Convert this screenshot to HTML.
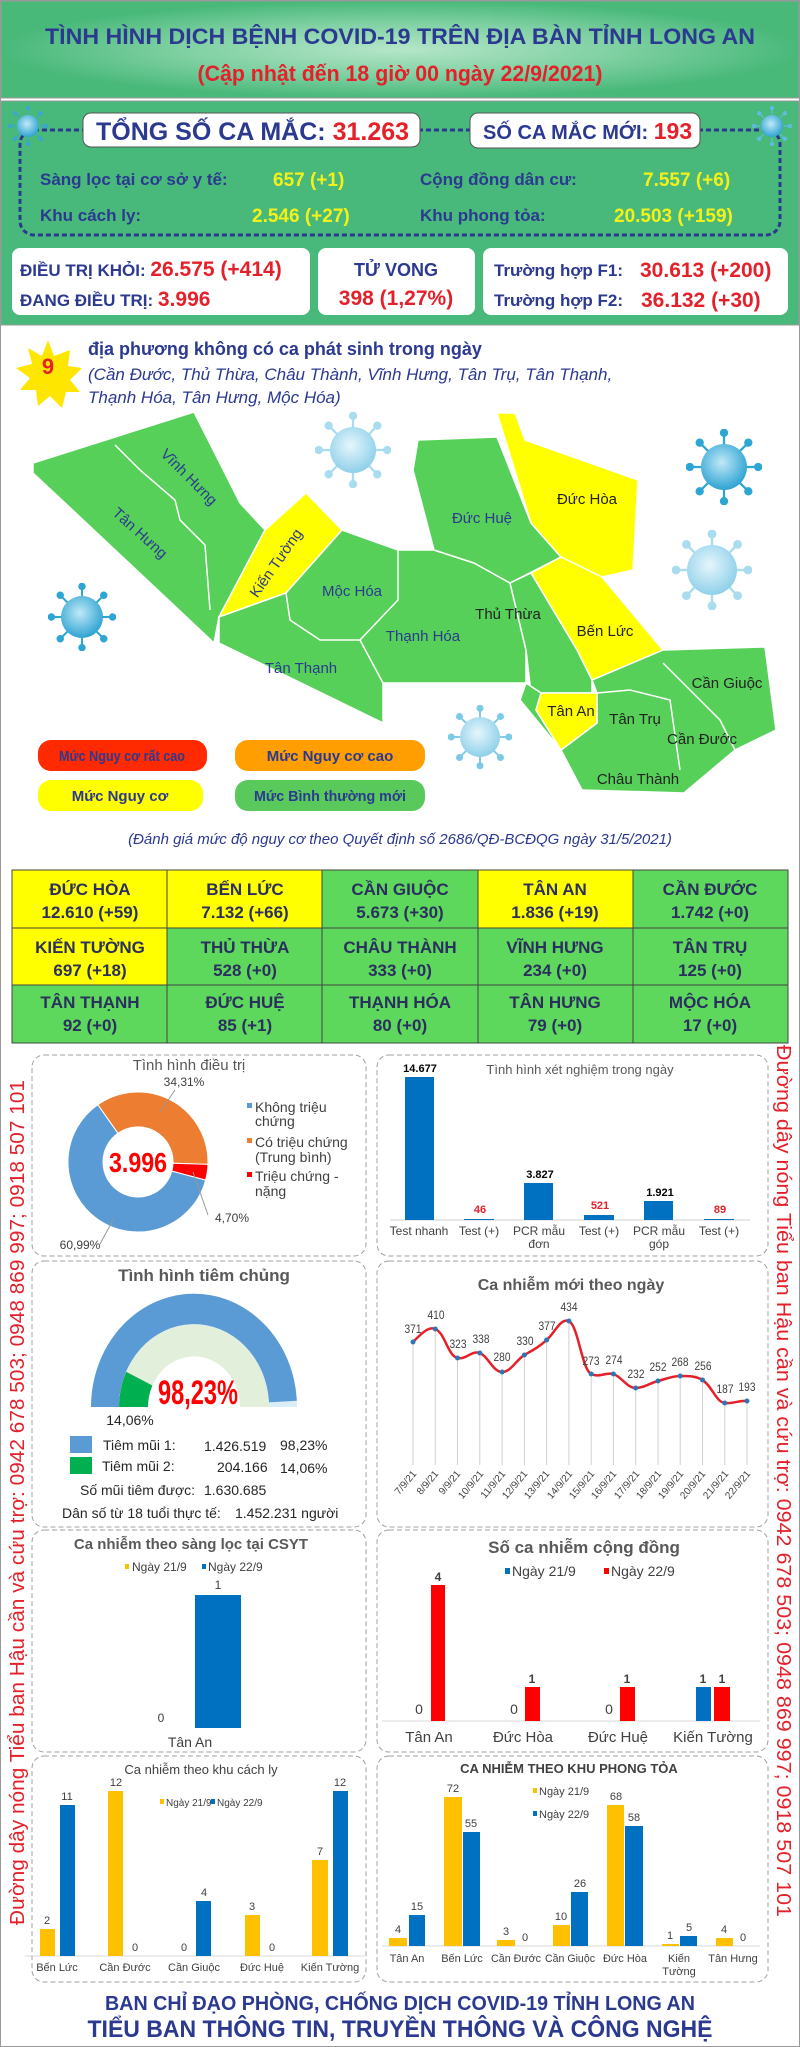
<!DOCTYPE html>
<html><head><meta charset="utf-8"><style>
html,body{margin:0;padding:0;background:#fff}
svg{display:block}
text{font-family:"Liberation Sans",sans-serif}
.n{font-family:"Liberation Sans Narrow","Liberation Sans",sans-serif}
</style></head><body>
<svg width="800" height="2047" viewBox="0 0 800 2047" xmlns="http://www.w3.org/2000/svg">
<defs>
<radialGradient id="hg" cx="50%" cy="50%" r="50%"><stop offset="0" stop-color="#b5e6c9"/><stop offset="0.55" stop-color="#7fd0a2"/><stop offset="1" stop-color="#49b97a"/></radialGradient>
<radialGradient id="vg" cx="45%" cy="40%" r="60%"><stop offset="0" stop-color="#bfe9f7"/><stop offset="1" stop-color="#2fa3d3"/></radialGradient>
<radialGradient id="vg2" cx="45%" cy="40%" r="60%"><stop offset="0" stop-color="#e6f6fc"/><stop offset="1" stop-color="#8fd0ea"/></radialGradient>
<symbol id="vir" viewBox="-50 -50 100 100">
<g stroke="currentColor" stroke-width="3" fill="currentColor">
<line x1="0" y1="-30" x2="0" y2="-44"/><line x1="0" y1="30" x2="0" y2="44"/><line x1="-30" y1="0" x2="-44" y2="0"/><line x1="30" y1="0" x2="44" y2="0"/>
<line x1="21" y1="21" x2="31" y2="31"/><line x1="-21" y1="21" x2="-31" y2="31"/><line x1="21" y1="-21" x2="31" y2="-31"/><line x1="-21" y1="-21" x2="-31" y2="-31"/>
<circle cx="0" cy="-45" r="4"/><circle cx="0" cy="45" r="4"/><circle cx="-45" cy="0" r="4"/><circle cx="45" cy="0" r="4"/>
<circle cx="32" cy="32" r="4"/><circle cx="-32" cy="32" r="4"/><circle cx="32" cy="-32" r="4"/><circle cx="-32" cy="-32" r="4"/>
</g>
</symbol>
</defs>
<rect x="0" y="0" width="800" height="2047" fill="#fff" stroke="#999" stroke-width="2"/>
<!-- header -->
<rect x="1" y="1" width="798" height="97" fill="url(#hg)" stroke="#999"/>
<text x="400" y="44" text-anchor="middle" font-size="22" font-weight="bold" fill="#2b3990" textLength="710" lengthAdjust="spacingAndGlyphs">TÌNH HÌNH DỊCH BỆNH COVID-19 TRÊN ĐỊA BÀN TỈNH LONG AN</text>
<text x="400" y="81" text-anchor="middle" font-size="22" font-weight="bold" fill="#e4202a" class="n" textLength="405" lengthAdjust="spacingAndGlyphs">(Cập nhật đến 18 giờ 00 ngày 22/9/2021)</text>
<!-- stats -->
<rect x="1" y="101" width="798" height="224" fill="#48b97a" stroke="#999"/>
<rect x="20" y="130" width="760" height="105" rx="14" fill="none" stroke="#2b3990" stroke-width="3" stroke-dasharray="5 3"/>
<use href="#vir" x="8" y="106" width="40" height="40" color="#3aa6d6"/>
<use href="#vir" x="752" y="106" width="40" height="40" color="#5fbde0"/>
<circle cx="28" cy="126" r="11" fill="url(#vg)"/><circle cx="772" cy="126" r="11" fill="url(#vg)"/>
<rect x="83" y="113" width="337" height="34" rx="8" fill="#fff" stroke="#555"/>
<text x="96" y="140" font-size="25" font-weight="bold" fill="#2b3990">TỔNG SỐ CA MẮC: <tspan fill="#e4202a">31.263</tspan></text>
<rect x="470" y="113" width="230" height="35" rx="8" fill="#fff" stroke="#555"/>
<text x="483" y="139" font-size="20" font-weight="bold" fill="#2b3990" class="n">SỐ CA MẮC MỚI: <tspan fill="#e4202a" font-size="23">193</tspan></text>
<g font-size="17" font-weight="bold" fill="#2b3990">
<text x="40" y="185">Sàng lọc tại cơ sở y tế:</text>
<text x="40" y="221">Khu cách ly:</text>
<text x="420" y="185">Cộng đồng dân cư:</text>
<text x="420" y="221">Khu phong tỏa:</text>
</g>
<g font-size="19" font-weight="bold" fill="#f4f11a">
<text x="273" y="186">657 (+1)</text>
<text x="252" y="222">2.546 (+27)</text>
<text x="643" y="186">7.557 (+6)</text>
<text x="614" y="222">20.503 (+159)</text>
</g>
<rect x="12" y="248" width="298" height="67" rx="8" fill="#fff"/>
<rect x="318" y="248" width="157" height="67" rx="8" fill="#fff"/>
<rect x="483" y="248" width="305" height="67" rx="8" fill="#fff"/>
<g font-weight="bold">
<text x="20" y="276" font-size="17" fill="#2b3990">ĐIỀU TRỊ KHỎI: <tspan fill="#e4202a" font-size="21">26.575 (+414)</tspan></text>
<text x="20" y="306" font-size="17" fill="#2b3990">ĐANG ĐIỀU TRỊ: <tspan fill="#e4202a" font-size="21">3.996</tspan></text>
<text x="396" y="276" font-size="18" fill="#2b3990" text-anchor="middle">TỬ VONG</text>
<text x="396" y="305" font-size="21" fill="#e4202a" text-anchor="middle">398 (1,27%)</text>
<text x="494" y="276" font-size="17" fill="#2b3990">Trường hợp F1:</text>
<text x="640" y="277" font-size="21" fill="#e4202a">30.613 (+200)</text>
<text x="494" y="306" font-size="17" fill="#2b3990">Trường hợp F2:</text>
<text x="641" y="307" font-size="21" fill="#e4202a">36.132 (+30)</text>
</g>
<!-- map section -->
<polygon points="48,340 54,356 70,350 68,366 82,368 70,380 80,392 66,392 62,408 50,396 38,406 36,390 20,390 30,378 16,368 32,364 28,348 42,356" fill="#ffe600"/>
<text x="48" y="374" text-anchor="middle" font-size="22" font-weight="bold" fill="#e4202a">9</text>
<text x="88" y="355" font-size="18" font-weight="bold" fill="#2b3990">địa phương không có ca phát sinh trong ngày</text>
<g font-size="17" font-style="italic" fill="#2b3990">
<text x="88" y="380">(Cần Đước, Thủ Thừa, Châu Thành, Vĩnh Hưng, Tân Trụ, Tân Thạnh,</text>
<text x="88" y="403">Thạnh Hóa, Tân Hưng, Mộc Hóa)</text>
</g>
<g stroke="#fff" stroke-width="1.5">
<polygon points="33,463 194,412 240,503 265,530 219,617 214,643 97,533 33,473" fill="#57d05a"/>
<polyline points="115,445 140,470 175,500 180,520 205,545 210,610" fill="none"/>
<polygon points="265,530 306,493 342,530 286,593 219,617" fill="#ffff00"/>
<polygon points="342,530 398,550 434,550 474,563 510,583 526,650 526,683 383,683 383,723 219,643 219,617 286,593" fill="#57d05a"/>
<polyline points="286,593 290,620 320,640 360,640 383,683" fill="none"/>
<polyline points="398,550 398,600 360,640" fill="none"/>
<polygon points="418,440 497,437 531,523 561,557 510,583 474,563 434,550 413,470" fill="#57d05a"/>
<polygon points="497,413 515,413 525,440 638,480 633,570 602,577 561,557 531,523" fill="#ffff00"/>
<polygon points="561,557 602,577 663,650 663,663 592,680 577,650 531,573" fill="#ffff00"/>
<polygon points="510,583 531,573 577,650 592,680 592,693 531,693 526,650" fill="#57d05a"/>
<polygon points="526,683 541,693 536,710 561,750 520,700" fill="#57d05a"/>
<polygon points="592,680 663,650 765,647 776,730 735,750 684,793 582,790 561,750 597,723 597,693" fill="#57d05a"/>
<polyline points="597,693 630,690 670,700 680,770" fill="none"/>
<polyline points="663,663 690,690 720,720 735,750" fill="none"/>
<polygon points="541,693 597,693 597,723 561,750 536,710" fill="#ffff00"/>
</g>
<g font-size="15" fill="#2b3990" class="n">
<text x="189" y="482" text-anchor="middle" transform="rotate(45 189 477)">Vĩnh Hưng</text>
<text x="140" y="538" text-anchor="middle" transform="rotate(42 140 533)">Tân Hưng</text>
<text x="276" y="568" text-anchor="middle" transform="rotate(-55 276 563)">Kiến Tường</text>
<text x="352" y="596" text-anchor="middle">Mộc Hóa</text>
<text x="301" y="673" text-anchor="middle">Tân Thạnh</text>
<text x="423" y="641" text-anchor="middle">Thạnh Hóa</text>
<text x="482" y="523" text-anchor="middle">Đức Huệ</text>
<text x="587" y="504" text-anchor="middle" fill="#222">Đức Hòa</text>
<text x="508" y="619" text-anchor="middle" fill="#222">Thủ Thừa</text>
<text x="605" y="636" text-anchor="middle" fill="#222">Bến Lức</text>
<text x="571" y="716" text-anchor="middle" fill="#222">Tân An</text>
<text x="635" y="724" text-anchor="middle" fill="#222">Tân Trụ</text>
<text x="727" y="688" text-anchor="middle" fill="#222">Cần Giuộc</text>
<text x="702" y="744" text-anchor="middle" fill="#222">Cần Đước</text>
<text x="638" y="784" text-anchor="middle" fill="#222">Châu Thành</text>
</g>
<g>
<use href="#vir" x="315" y="412" width="76" height="76" color="#a9dcef"/><circle cx="353" cy="450" r="23" fill="url(#vg2)"/>
<use href="#vir" x="686" y="429" width="76" height="76" color="#2ea6d4"/><circle cx="724" cy="467" r="23" fill="url(#vg)"/>
<use href="#vir" x="672" y="530" width="80" height="80" color="#a9dcef"/><circle cx="712" cy="570" r="25" fill="url(#vg2)"/>
<use href="#vir" x="48" y="583" width="68" height="68" color="#2ea6d4"/><circle cx="82" cy="617" r="21" fill="url(#vg)"/>
<use href="#vir" x="448" y="705" width="64" height="64" color="#7ccbe6"/><circle cx="480" cy="737" r="20" fill="url(#vg2)"/>
</g>
<rect x="38" y="740" width="169" height="31" rx="13" fill="#ff2a00"/>
<rect x="235" y="740" width="190" height="31" rx="13" fill="#ff9e00"/>
<rect x="38" y="780" width="165" height="31" rx="13" fill="#ffff00"/>
<rect x="235" y="780" width="190" height="31" rx="13" fill="#5ac95b"/>
<g font-size="15" font-weight="bold" fill="#2b3990" text-anchor="middle" class="n">
<text x="122" y="761" textLength="126" lengthAdjust="spacingAndGlyphs">Mức Nguy cơ rất cao</text>
<text x="330" y="761">Mức Nguy cơ cao</text>
<text x="120" y="801">Mức Nguy cơ</text>
<text x="330" y="801" textLength="152" lengthAdjust="spacingAndGlyphs">Mức Bình thường mới</text>
</g>
<text x="400" y="844" text-anchor="middle" font-size="15" font-style="italic" fill="#2b3990">(Đánh giá mức độ nguy cơ theo Quyết định số 2686/QĐ-BCĐQG ngày 31/5/2021)</text>
<!-- table -->
<g stroke="#444" stroke-width="1">
<rect x="12" y="870" width="155" height="58" fill="#ffff00"/><rect x="167" y="870" width="155" height="58" fill="#ffff00"/><rect x="322" y="870" width="156" height="58" fill="#5dd85d"/><rect x="478" y="870" width="155" height="58" fill="#ffff00"/><rect x="633" y="870" width="155" height="58" fill="#5dd85d"/>
<rect x="12" y="928" width="155" height="57" fill="#ffff00"/><rect x="167" y="928" width="155" height="57" fill="#5dd85d"/><rect x="322" y="928" width="156" height="57" fill="#5dd85d"/><rect x="478" y="928" width="155" height="57" fill="#5dd85d"/><rect x="633" y="928" width="155" height="57" fill="#5dd85d"/>
<rect x="12" y="985" width="155" height="58" fill="#5dd85d"/><rect x="167" y="985" width="155" height="58" fill="#5dd85d"/><rect x="322" y="985" width="156" height="58" fill="#5dd85d"/><rect x="478" y="985" width="155" height="58" fill="#5dd85d"/><rect x="633" y="985" width="155" height="58" fill="#5dd85d"/>
</g>
<g font-size="17" font-weight="bold" fill="#2b2f5e" text-anchor="middle" class="n">
<text x="90" y="895">ĐỨC HÒA</text><text x="90" y="918">12.610 (+59)</text>
<text x="245" y="895">BẾN LỨC</text><text x="245" y="918">7.132 (+66)</text>
<text x="400" y="895">CẦN GIUỘC</text><text x="400" y="918">5.673 (+30)</text>
<text x="555" y="895">TÂN AN</text><text x="555" y="918">1.836 (+19)</text>
<text x="710" y="895">CẦN ĐƯỚC</text><text x="710" y="918">1.742 (+0)</text>
<text x="90" y="953">KIẾN TƯỜNG</text><text x="90" y="976">697 (+18)</text>
<text x="245" y="953">THỦ THỪA</text><text x="245" y="976">528 (+0)</text>
<text x="400" y="953">CHÂU THÀNH</text><text x="400" y="976">333 (+0)</text>
<text x="555" y="953">VĨNH HƯNG</text><text x="555" y="976">234 (+0)</text>
<text x="710" y="953">TÂN TRỤ</text><text x="710" y="976">125 (+0)</text>
<text x="90" y="1008">TÂN THẠNH</text><text x="90" y="1031">92 (+0)</text>
<text x="245" y="1008">ĐỨC HUỆ</text><text x="245" y="1031">85 (+1)</text>
<text x="400" y="1008">THẠNH HÓA</text><text x="400" y="1031">80 (+0)</text>
<text x="555" y="1008">TÂN HƯNG</text><text x="555" y="1031">79 (+0)</text>
<text x="710" y="1008">MỘC HÓA</text><text x="710" y="1031">17 (+0)</text>
</g>
<!-- dashed boxes -->
<g fill="none" stroke="#a0a0a0" stroke-dasharray="5 3">
<rect x="32" y="1055" width="334" height="201" rx="12"/><rect x="377" y="1055" width="391" height="201" rx="12"/>
<rect x="32" y="1261" width="334" height="266" rx="12"/><rect x="377" y="1261" width="391" height="266" rx="12"/>
<rect x="32" y="1530" width="334" height="222" rx="12"/><rect x="377" y="1530" width="391" height="222" rx="12"/>
<rect x="32" y="1756" width="334" height="226" rx="12"/><rect x="377" y="1756" width="391" height="226" rx="12"/>
</g>
<!-- side texts -->
<text transform="translate(24,1925) rotate(-90)" font-size="20" fill="#e4202a" textLength="845" lengthAdjust="spacingAndGlyphs">Đường dây nóng Tiểu ban Hậu cần và cứu trợ: 0942 678 503; 0948 869 997; 0918 507 101</text>
<text transform="translate(777,1045) rotate(90)" font-size="20" fill="#e4202a" textLength="872" lengthAdjust="spacingAndGlyphs">Đường dây nóng Tiểu ban Hậu cần và cứu trợ: 0942 678 503; 0948 869 997; 0918 507 101</text>
<!-- donut -->
<text x="189" y="1070" text-anchor="middle" font-size="15" fill="#595959" class="n">Tình hình điều trị</text>
<g transform="translate(138,1162)">
<path d="M -40.2 -57.3 A 70 70 0 0 1 69.96 2.4 L 35 1.2 A 35 35 0 0 0 -20.1 -28.7 Z" fill="#ed7d31" stroke="#fff"/>
<path d="M 69.96 2.4 A 70 70 0 0 1 67.6 18.1 L 33.8 9.1 A 35 35 0 0 0 35 1.2 Z" fill="#ff0000" stroke="#fff"/>
<path d="M 67.6 18.1 A 70 70 0 1 1 -40.2 -57.3 L -20.1 -28.7 A 35 35 0 1 0 33.8 9.1 Z" fill="#5b9bd5" stroke="#fff"/>
<text x="0" y="10" text-anchor="middle" font-size="28" font-weight="bold" fill="#ff0000" class="n" textLength="58" lengthAdjust="spacingAndGlyphs">3.996</text>
</g>
<g font-size="12" fill="#404040" class="n">
<text x="184" y="1086" text-anchor="middle">34,31%</text>
<text x="232" y="1222" text-anchor="middle">4,70%</text>
<text x="80" y="1249" text-anchor="middle">60,99%</text>
<line x1="160" y1="1112" x2="175" y2="1090" stroke="#999"/>
<line x1="193" y1="1172" x2="208" y2="1215" stroke="#999"/>
<line x1="113" y1="1220" x2="100" y2="1244" stroke="#999"/>
<rect x="247" y="1103" width="5" height="5" fill="#5b9bd5"/><text x="255" y="1112" font-size="14">Không triệu</text><text x="255" y="1126" font-size="14">chứng</text>
<rect x="247" y="1138" width="5" height="5" fill="#ed7d31"/><text x="255" y="1147" font-size="14">Có triệu chứng</text><text x="255" y="1162" font-size="14">(Trung bình)</text>
<rect x="247" y="1172" width="5" height="5" fill="#ff0000"/><text x="255" y="1181" font-size="14">Triệu chứng -</text><text x="255" y="1196" font-size="14">nặng</text>
</g>
<!-- test bars -->
<text x="580" y="1074" text-anchor="middle" font-size="13" fill="#595959" class="n">Tình hình xét nghiệm trong ngày</text>
<line x1="390" y1="1220" x2="750" y2="1220" stroke="#d0d0d0"/>
<g fill="#0070c0">
<rect x="405" y="1077" width="29" height="143"/><rect x="464" y="1219" width="30" height="1"/>
<rect x="524" y="1183" width="29" height="37"/><rect x="584" y="1215" width="30" height="5"/>
<rect x="644" y="1201" width="29" height="19"/><rect x="704" y="1219" width="30" height="1"/>
</g>
<g font-size="11" font-weight="bold" text-anchor="middle" class="n">
<text x="420" y="1072">14.677</text><text x="480" y="1213" fill="#e4202a">46</text>
<text x="540" y="1178">3.827</text><text x="600" y="1209" fill="#e4202a">521</text>
<text x="660" y="1196">1.921</text><text x="720" y="1213" fill="#e4202a">89</text>
</g>
<g font-size="12" fill="#404040" text-anchor="middle" class="n">
<text x="419" y="1235">Test nhanh</text><text x="479" y="1235">Test (+)</text>
<text x="539" y="1235">PCR mẫu</text><text x="539" y="1248">đơn</text>
<text x="599" y="1235">Test (+)</text>
<text x="659" y="1235">PCR mẫu</text><text x="659" y="1248">góp</text>
<text x="719" y="1235">Test (+)</text>
</g>
<!-- gauge -->
<text x="204" y="1281" text-anchor="middle" font-size="17" font-weight="bold" fill="#595959" font-family="Liberation Serif, serif">Tình hình tiêm chủng</text>
<g transform="translate(194,1407) scale(1,1.1)">
<path d="M -103 0 A 103 103 0 0 1 103 0 L 75 0 A 75 75 0 0 0 -75 0 Z" fill="#dbeef7"/>
<path d="M -103 0 A 103 103 0 0 1 102.84 -5.7 L 74.9 -4.2 A 75 75 0 0 0 -75 0 Z" fill="#5b9bd5"/>
<path d="M -75 0 A 75 75 0 0 1 75 0 L 46 0 A 46 46 0 0 0 -46 0 Z" fill="#e2efda"/>
<path d="M -75 0 A 75 75 0 0 1 -67.8 -32 L -41.6 -19.6 A 46 46 0 0 0 -46 0 Z" fill="#00b050"/>
</g>
<text x="198" y="1404" text-anchor="middle" font-size="34" font-weight="bold" fill="#ff0000" class="n" textLength="80" lengthAdjust="spacingAndGlyphs">98,23%</text>
<text x="130" y="1425" text-anchor="middle" font-size="14" fill="#262626" class="n">14,06%</text>
<rect x="70" y="1436" width="22" height="17" fill="#5b9bd5"/><rect x="70" y="1457" width="22" height="17" fill="#00b050"/>
<g font-size="14" fill="#262626" class="n">
<text x="103" y="1450">Tiêm mũi 1:</text><text x="204" y="1451">1.426.519</text><text x="280" y="1450">98,23%</text>
<text x="102" y="1471">Tiêm mũi 2:</text><text x="217" y="1472">204.166</text><text x="280" y="1473">14,06%</text>
<text x="80" y="1495">Số mũi tiêm được:</text><text x="204" y="1495">1.630.685</text>
<text x="62" y="1518">Dân số từ 18 tuổi thực tế:</text><text x="235" y="1518">1.452.231 người</text>
</g>
<!-- line chart -->
<text x="571" y="1290" text-anchor="middle" font-size="16" font-weight="bold" fill="#595959" class="n">Ca nhiễm mới theo ngày</text>
<g stroke="#d0d0d0">
<line x1="413" y1="1342" x2="413" y2="1465"/><line x1="435.3" y1="1329" x2="435.3" y2="1465"/><line x1="457.5" y1="1358" x2="457.5" y2="1465"/><line x1="479.8" y1="1353" x2="479.8" y2="1465"/><line x1="502.1" y1="1372" x2="502.1" y2="1465"/><line x1="524.4" y1="1355" x2="524.4" y2="1465"/><line x1="546.6" y1="1340" x2="546.6" y2="1465"/><line x1="568.9" y1="1321" x2="568.9" y2="1465"/><line x1="591.2" y1="1374" x2="591.2" y2="1465"/><line x1="613.4" y1="1374" x2="613.4" y2="1465"/><line x1="635.7" y1="1388" x2="635.7" y2="1465"/><line x1="658" y1="1381" x2="658" y2="1465"/><line x1="680.2" y1="1376" x2="680.2" y2="1465"/><line x1="702.5" y1="1380" x2="702.5" y2="1465"/><line x1="724.8" y1="1403" x2="724.8" y2="1465"/><line x1="747" y1="1401" x2="747" y2="1465"/>
</g>
<path d="M413,1342 C420,1335 428,1326 435.3,1329 C445,1333 448,1356 457.5,1358 C466,1360 472,1350 479.8,1353 C488,1356 493,1372 502.1,1372 C511,1372 516,1360 524.4,1355 C533,1350 539,1347 546.6,1340 C555,1333 560,1318 568.9,1321 C578,1325 582,1370 591.2,1374 C600,1378 605,1372 613.4,1374 C622,1377 627,1388 635.7,1388 C644,1388 650,1383 658,1381 C666,1379 672,1376 680.2,1376 C689,1376 696,1376 702.5,1380 C712,1386 716,1402 724.8,1403 C733,1404 740,1400 747,1401" fill="none" stroke="#e4202a" stroke-width="2.5"/>
<g fill="#2e75b6">
<circle cx="413" cy="1342" r="2.5"/><circle cx="435.3" cy="1329" r="2.5"/><circle cx="457.5" cy="1358" r="2.5"/><circle cx="479.8" cy="1353" r="2.5"/><circle cx="502.1" cy="1372" r="2.5"/><circle cx="524.4" cy="1355" r="2.5"/><circle cx="546.6" cy="1340" r="2.5"/><circle cx="568.9" cy="1321" r="2.5"/><circle cx="591.2" cy="1374" r="2.5"/><circle cx="613.4" cy="1374" r="2.5"/><circle cx="635.7" cy="1388" r="2.5"/><circle cx="658" cy="1381" r="2.5"/><circle cx="680.2" cy="1376" r="2.5"/><circle cx="702.5" cy="1380" r="2.5"/><circle cx="724.8" cy="1403" r="2.5"/><circle cx="747" cy="1401" r="2.5"/>
</g>
<g font-size="12" fill="#404040" text-anchor="middle" class="n">
<text x="413" y="1333" textLength="17" lengthAdjust="spacingAndGlyphs">371</text><text x="436" y="1319" textLength="17" lengthAdjust="spacingAndGlyphs">410</text><text x="458" y="1348" textLength="17" lengthAdjust="spacingAndGlyphs">323</text><text x="481" y="1343" textLength="17" lengthAdjust="spacingAndGlyphs">338</text><text x="502" y="1361" textLength="17" lengthAdjust="spacingAndGlyphs">280</text><text x="525" y="1345" textLength="17" lengthAdjust="spacingAndGlyphs">330</text><text x="547" y="1330" textLength="17" lengthAdjust="spacingAndGlyphs">377</text><text x="569" y="1311" textLength="17" lengthAdjust="spacingAndGlyphs">434</text><text x="591" y="1365" textLength="17" lengthAdjust="spacingAndGlyphs">273</text><text x="614" y="1364" textLength="17" lengthAdjust="spacingAndGlyphs">274</text><text x="636" y="1378" textLength="17" lengthAdjust="spacingAndGlyphs">232</text><text x="658" y="1371" textLength="17" lengthAdjust="spacingAndGlyphs">252</text><text x="680" y="1366" textLength="17" lengthAdjust="spacingAndGlyphs">268</text><text x="703" y="1370" textLength="17" lengthAdjust="spacingAndGlyphs">256</text><text x="725" y="1393" textLength="17" lengthAdjust="spacingAndGlyphs">187</text><text x="747" y="1391" textLength="17" lengthAdjust="spacingAndGlyphs">193</text>
</g>
<g font-size="10" fill="#404040" text-anchor="end" class="n">
<text transform="translate(417,1474) rotate(-50)">7/9/21</text><text transform="translate(439,1474) rotate(-50)">8/9/21</text><text transform="translate(461,1474) rotate(-50)">9/9/21</text><text transform="translate(484,1474) rotate(-50)">10/9/21</text><text transform="translate(506,1474) rotate(-50)">11/9/21</text><text transform="translate(528,1474) rotate(-50)">12/9/21</text><text transform="translate(550,1474) rotate(-50)">13/9/21</text><text transform="translate(573,1474) rotate(-50)">14/9/21</text><text transform="translate(595,1474) rotate(-50)">15/9/21</text><text transform="translate(617,1474) rotate(-50)">16/9/21</text><text transform="translate(640,1474) rotate(-50)">17/9/21</text><text transform="translate(662,1474) rotate(-50)">18/9/21</text><text transform="translate(684,1474) rotate(-50)">19/9/21</text><text transform="translate(706,1474) rotate(-50)">20/9/21</text><text transform="translate(729,1474) rotate(-50)">21/9/21</text><text transform="translate(751,1474) rotate(-50)">22/9/21</text>
</g>
<!-- CSYT -->
<text x="191" y="1549" text-anchor="middle" font-size="15" font-weight="bold" fill="#595959" class="n">Ca nhiễm theo sàng lọc tại CSYT</text>
<rect x="125" y="1564" width="4" height="5" fill="#ffc000"/><rect x="202" y="1564" width="4" height="5" fill="#0070c0"/>
<g font-size="12" fill="#404040" class="n"><text x="132" y="1571">Ngày 21/9</text><text x="208" y="1571">Ngày 22/9</text></g>
<rect x="195" y="1595" width="46" height="133" fill="#0070c0"/>
<g font-size="12" fill="#404040" text-anchor="middle" class="n"><text x="218" y="1589">1</text><text x="161" y="1722">0</text><text x="190" y="1747" font-size="14">Tân An</text></g>
<!-- community -->
<text x="584" y="1553" text-anchor="middle" font-size="17" font-weight="bold" fill="#595959" class="n">Số ca nhiễm cộng đồng</text>
<rect x="505" y="1568" width="5" height="6" fill="#0070c0"/><rect x="604" y="1568" width="5" height="6" fill="#ff0000"/>
<g font-size="14" fill="#404040" class="n"><text x="512" y="1576">Ngày 21/9</text><text x="611" y="1576">Ngày 22/9</text></g>
<line x1="382" y1="1721" x2="760" y2="1721" stroke="#d9d9d9"/>
<g fill="#ff0000"><rect x="431" y="1585" width="14" height="136"/><rect x="525" y="1687" width="15" height="34"/><rect x="620" y="1687" width="15" height="34"/><rect x="714" y="1687" width="16" height="34"/></g>
<rect x="696" y="1687" width="15" height="34" fill="#0070c0"/>
<g font-size="12" fill="#404040" text-anchor="middle" class="n">
<text x="438" y="1581" font-weight="bold">4</text><text x="532" y="1683" font-weight="bold">1</text><text x="627" y="1683" font-weight="bold">1</text><text x="703" y="1683" font-weight="bold">1</text><text x="722" y="1683" font-weight="bold">1</text>
<text x="419" y="1714" font-size="14">0</text><text x="514" y="1714" font-size="14">0</text><text x="609" y="1714" font-size="14">0</text>
<text x="429" y="1742" font-size="15">Tân An</text><text x="523" y="1742" font-size="15">Đức Hòa</text><text x="618" y="1742" font-size="15">Đức Huệ</text><text x="713" y="1742" font-size="15">Kiến Tường</text>
</g>
<!-- cach ly -->
<text x="201" y="1774" text-anchor="middle" font-size="13" fill="#404040" class="n">Ca nhiễm theo khu cách ly</text>
<rect x="160" y="1799" width="4" height="5" fill="#ffc000"/><rect x="211" y="1799" width="4" height="5" fill="#0070c0"/>
<g font-size="10" fill="#404040" class="n"><text x="166" y="1806">Ngày 21/9</text><text x="217" y="1806">Ngày 22/9</text></g>
<line x1="25" y1="1956" x2="365" y2="1956" stroke="#d9d9d9"/>
<g fill="#ffc000"><rect x="40" y="1929" width="15" height="27"/><rect x="108" y="1791" width="15" height="165"/><rect x="245" y="1915" width="15" height="41"/><rect x="312" y="1860" width="16" height="96"/></g>
<g fill="#0070c0"><rect x="60" y="1805" width="15" height="151"/><rect x="196" y="1901" width="15" height="55"/><rect x="333" y="1791" width="15" height="165"/></g>
<g font-size="11" fill="#404040" text-anchor="middle" class="n">
<text x="47" y="1924">2</text><text x="67" y="1800">11</text><text x="116" y="1786">12</text><text x="135" y="1951">0</text><text x="184" y="1951">0</text><text x="204" y="1896">4</text><text x="252" y="1910">3</text><text x="272" y="1951">0</text><text x="320" y="1855">7</text><text x="340" y="1786">12</text>
<text x="57" y="1971">Bến Lức</text><text x="125" y="1971">Cần Đước</text><text x="194" y="1971">Cần Giuộc</text><text x="262" y="1971">Đức Huệ</text><text x="330" y="1971">Kiến Tường</text>
</g>
<!-- phong toa -->
<text x="569" y="1773" text-anchor="middle" font-size="13" font-weight="bold" fill="#404040" class="n">CA NHIỄM THEO KHU PHONG TỎA</text>
<rect x="533" y="1788" width="4" height="5" fill="#ffc000"/><rect x="533" y="1811" width="4" height="5" fill="#0070c0"/>
<g font-size="11" fill="#404040" class="n"><text x="539" y="1795">Ngày 21/9</text><text x="539" y="1818">Ngày 22/9</text></g>
<line x1="382" y1="1946" x2="760" y2="1946" stroke="#d9d9d9"/>
<g fill="#ffc000"><rect x="389" y="1938" width="18" height="8"/><rect x="444" y="1797" width="18" height="149"/><rect x="497" y="1940" width="18" height="6"/><rect x="553" y="1925" width="17" height="21"/><rect x="607" y="1805" width="17" height="141"/><rect x="662" y="1944" width="17" height="2"/><rect x="716" y="1938" width="17" height="8"/></g>
<g fill="#0070c0"><rect x="409" y="1915" width="16" height="31"/><rect x="463" y="1832" width="17" height="114"/><rect x="571" y="1892" width="17" height="54"/><rect x="625" y="1826" width="18" height="120"/><rect x="680" y="1936" width="17" height="10"/></g>
<g font-size="11" fill="#404040" text-anchor="middle" class="n">
<text x="398" y="1933">4</text><text x="417" y="1910">15</text><text x="453" y="1792">72</text><text x="471" y="1827">55</text><text x="506" y="1935">3</text><text x="525" y="1941">0</text><text x="561" y="1920">10</text><text x="580" y="1887">26</text><text x="616" y="1800">68</text><text x="634" y="1821">58</text><text x="670" y="1939">1</text><text x="689" y="1931">5</text><text x="724" y="1933">4</text><text x="743" y="1941">0</text>
<text x="407" y="1962">Tân An</text><text x="462" y="1962">Bến Lức</text><text x="516" y="1962" textLength="50" lengthAdjust="spacingAndGlyphs">Cần Đước</text><text x="570" y="1962" textLength="50" lengthAdjust="spacingAndGlyphs">Cần Giuộc</text><text x="625" y="1962">Đức Hòa</text><text x="679" y="1962">Kiến</text><text x="679" y="1975">Tường</text><text x="733" y="1962">Tân Hưng</text>
</g>
<!-- footer -->
<text x="400" y="2010" text-anchor="middle" font-size="20" font-weight="bold" fill="#2b3990" textLength="590" lengthAdjust="spacingAndGlyphs">BAN CHỈ ĐẠO PHÒNG, CHỐNG DỊCH COVID-19 TỈNH LONG AN</text>
<text x="400" y="2037" text-anchor="middle" font-size="24" font-weight="bold" fill="#2b3990" textLength="625" lengthAdjust="spacingAndGlyphs">TIỂU BAN THÔNG TIN, TRUYỀN THÔNG VÀ CÔNG NGHỆ</text>
</svg>
</body></html>
